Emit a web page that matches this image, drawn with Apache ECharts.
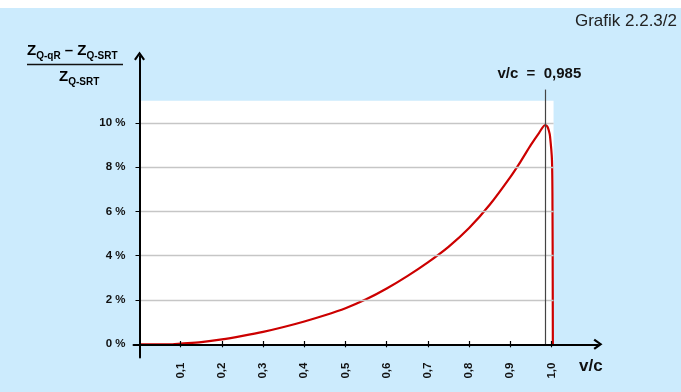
<!DOCTYPE html>
<html>
<head>
<meta charset="utf-8">
<script src="https://cdn.jsdelivr.net/npm/echarts@6/dist/echarts.min.js"></script>
<style>
  html, body { margin: 0; padding: 0; background: #ffffff; }
  #chart { width: 681px; height: 392px; }
</style>
</head>
<body>
<div id="chart"></div>
<script>
// Saturation ratio v/c and relative difference (Z_Q-qR - Z_Q-SRT) / Z_Q-SRT in percent
const vc = [0, 0.05, 0.08, 0.1, 0.15, 0.2, 0.25, 0.3, 0.35, 0.4, 0.45, 0.5, 0.55, 0.6, 0.65,
            0.7, 0.75, 0.8, 0.85, 0.9, 0.925, 0.95, 0.97, 0.985,
            0.99, 0.9935, 0.9964, 1.0012, 1.0025, 1.003, 1.0033];
const relDiffPct = [0, 0, 0, 0.03, 0.1, 0.22, 0.38, 0.56, 0.78, 1.03, 1.31, 1.63, 2.03, 2.52, 3.08,
                    3.7, 4.4, 5.25, 6.3, 7.55, 8.25, 9.0, 9.55, 9.9,
                    9.83, 9.65, 9.4, 8.3, 6.0, 3.0, 0];

// Axis ticks and labels
const xTicks = [0.1, 0.2, 0.3, 0.4, 0.5, 0.6, 0.7, 0.8, 0.9, 1.0];
const yTicks = [0, 2, 4, 6, 8, 10];

// Saturation at the maximum difference
const peakVc = 0.985;

// Extent of the white panel and of the marker line
const panelXEnd = 1.005;
const panelYEnd = 11;
const markerTop = 11.5;
const tickUp = 0.15;

const FONT = "'Liberation Sans', Arial, sans-serif";
const BG = '#ccebfd';

const points = vc.map((v, i) => [v, relDiffPct[i]]);
const fmtComma = (v, d) => v.toFixed(d).replace('.', ',');

const chevron = 'path://M5,0 L10,7 L8.4,8.2 L5,3.2 L1.6,8.2 L0,7 Z';

const subRich = {
  z: { fontFamily: FONT, fontSize: 15, fontWeight: 'bold', color: '#111', lineHeight: 18, verticalAlign: 'bottom' },
  s: { fontFamily: FONT, fontSize: 10, fontWeight: 'bold', color: '#111', lineHeight: 18, verticalAlign: 'bottom', padding: [0, 0, -3, 0] }
};

const chart = echarts.init(document.getElementById('chart'), null, { renderer: 'canvas' });

chart.setOption({
  backgroundColor: BG,
  animation: false,
  grid: { left: 133.5, right: 83, top: 56, bottom: 34.4, containLabel: false },
  xAxis: {
    type: 'value', min: -0.0146, max: 1.1129, z: 5,
    axisLine: { onZero: true, lineStyle: { color: '#000', width: 2 },
                symbol: ['none', chevron], symbolSize: [11, 9] },
    axisTick: { show: true, length: 3, customValues: xTicks, lineStyle: { color: '#000', width: 1.2 } },
    axisLabel: { customValues: xTicks, rotate: 90, margin: 5, color: '#111',
                 fontFamily: FONT, fontSize: 11.5, fontWeight: 'bold', formatter: v => fmtComma(v, 1) },
    splitLine: { show: false }
  },
  yAxis: {
    type: 'value', min: -0.6, max: 13.016, z: 5,
    axisLine: { show: true, onZero: true, lineStyle: { color: '#000', width: 2 },
                symbol: ['none', chevron], symbolSize: [11, 9] },
    axisTick: { show: true, length: 4, customValues: yTicks, lineStyle: { color: '#000', width: 1 } },
    axisLabel: { customValues: yTicks, margin: 8, color: '#111', fontFamily: FONT, fontSize: 11.5,
                 fontWeight: 'bold', formatter: v => v + ' %' },
    splitLine: { show: false }
  },
  series: [
    {
      // white panel with horizontal grid lines
      type: 'line', data: [], z: 1, silent: true,
      markArea: {
        silent: true,
        itemStyle: { color: '#ffffff' },
        data: [[{ coord: [0, 0] }, { coord: [panelXEnd, panelYEnd] }]]
      },
      markLine: {
        silent: true, symbol: 'none',
        lineStyle: { color: '#c6c6c6', width: 1.3, type: 'solid' },
        label: { show: false },
        data: yTicks.filter(t => t > 0).map(t => [{ coord: [0, t] }, { coord: [panelXEnd, t] }])
      }
    },
    {
      // upper halves of the x ticks, crossing the axis
      type: 'line', data: [], z: 6, silent: true,
      markLine: {
        silent: true, symbol: 'none',
        lineStyle: { color: '#000', width: 1.2, type: 'solid' },
        label: { show: false },
        data: xTicks.map(t => [{ coord: [t, 0] }, { coord: [t, tickUp] }])
      }
    },
    {
      // marker at the maximum
      type: 'line', data: [], z: 3, silent: true,
      markLine: {
        silent: true, symbol: 'none',
        lineStyle: { color: '#444', width: 1.2, type: 'solid' },
        label: {
          show: true, position: 'end', distance: 8, offset: [-6, 0],
          fontFamily: FONT, fontSize: 15, fontWeight: 'bold', color: '#111',
          formatter: () => 'v/c  =  ' + fmtComma(peakVc, 3)
        },
        data: [[{ coord: [peakVc, 0] }, { coord: [peakVc, markerTop] }]]
      }
    },
    {
      type: 'line', data: points, z: 4,
      showSymbol: false, symbol: 'none', smooth: 0.3,
      lineStyle: { color: '#cc0000', width: 2.2 }
    }
  ],
  graphic: [
    { type: 'rect', left: 0, top: 0, shape: { width: 681, height: 8 }, style: { fill: '#ffffff' }, silent: true },
    {
      type: 'text', right: 4, top: 13,
      style: { text: 'Grafik 2.2.3/2', font: '17px ' + FONT, fill: '#222' }
    },
    {
      type: 'text', left: 579, top: 358,
      style: { text: 'v/c', font: 'bold 17px ' + FONT, fill: '#111' }
    },
    {
      type: 'text', left: 27, top: 43,
      style: { text: '{z|Z}{s|Q-qR}{z| – Z}{s|Q-SRT}', rich: subRich }
    },
    {
      type: 'line', shape: { x1: 27, y1: 64.5, x2: 123, y2: 64.5 },
      style: { stroke: '#111', lineWidth: 1.5 }
    },
    {
      type: 'text', left: 59, top: 69,
      style: { text: '{z|Z}{s|Q-SRT}', rich: subRich }
    }
  ]
});
</script>
</body>
</html>
